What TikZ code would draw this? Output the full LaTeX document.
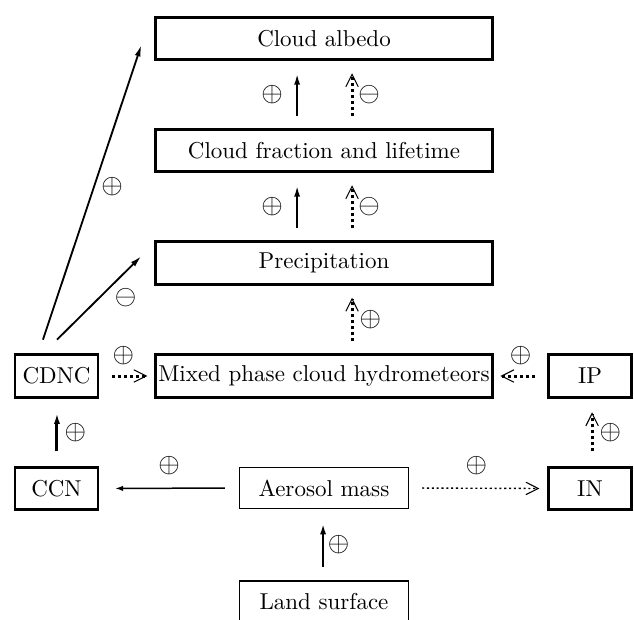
\documentclass[tikz,border=0pt]{standalone}
\usepackage{tikz}
\usetikzlibrary{arrows.meta}

\begin{document}
\begin{tikzpicture}[x=0.435pt, y=-0.435pt]
\tikzstyle{bigbox}=
[
    %Sets thick frames for the cloud quantities
    draw, line width=1.3pt, inner sep=0pt,
    minimum width=146.6pt, minimum height=18.3pt
    ]
\tikzstyle{smallbox}=[bigbox, minimum width=36.1pt]
\tikzstyle{thinbox}=
[
    %Sets thin frames for the surface quantities
    draw, line width=0.6pt, inner sep=0pt,
    minimum width=73.4pt, minimum height=17.7pt
    ]
\tikzstyle{solidarrow}=
[
    %Formats solid links
    line width=0.9pt, -{Latex[length=5pt,width=2.6pt]},
    shorten <=5.3pt, shorten >=5.3pt
    ]
\tikzstyle{dotarrow}=
[
    %Formats dotted links with open heads
    line width=1.3pt, dash pattern=on 1.3pt off 1.3pt,
    -{Straight Barb[length=5.4pt,width=5.4pt,line width=0.45pt]},
    shorten <=5.3pt, shorten >=5.3pt
    ]
\tikzstyle{sign}=[inner sep=0pt, font=\large]

%Fixes the frame of the page
\useasboundingbox (0,0) rectangle (634,619);
\clip (0,0) rectangle (634,619);

%Places the boxes
\node[bigbox] (albedo) at (324,38.5) {Cloud albedo};
\node[bigbox] (frac) at (324,150.5) {Cloud fraction and lifetime};
\node[bigbox] (precip) at (324,263) {Precipitation};
\node[bigbox] (mixed) at (324,376) {Mixed phase cloud hydrometeors};
\node[smallbox] (cdnc) at (56.5,376) {CDNC};
\node[smallbox] (icep) at (590,376) {IP};
\node[smallbox] (ccn) at (56.5,488.5) {CCN};
\node[smallbox] (innuc) at (590,488.5) {IN};
\node[thinbox] (aerosol) at (324,488) {Aerosol mass};
\node[thinbox] (land) at (324,601.5) {Land surface};

%Draws the links between the cloud boxes
\draw[solidarrow] ([xshift=-11.7pt]frac.north) -- node[sign, xshift=-10.9pt]{$\oplus$} ([xshift=-11.7pt]albedo.south);
\draw[dotarrow] ([xshift=12.2pt]frac.north) -- node[sign, xshift=7.4pt]{$\ominus$} ([xshift=12.2pt]albedo.south);
\draw[solidarrow] ([xshift=-11.7pt]precip.north) -- node[sign, xshift=-10.9pt]{$\oplus$} ([xshift=-11.7pt]frac.south);
\draw[dotarrow] ([xshift=12.2pt]precip.north) -- node[sign, xshift=7.4pt]{$\ominus$} ([xshift=12.2pt]frac.south);
\draw[dotarrow] ([xshift=12.2pt]mixed.north) -- node[sign, xshift=8pt]{$\oplus$} ([xshift=12.2pt]precip.south);

%Draws the links from CDNC
\draw[solidarrow, line width=0.8pt, shorten <=0pt, shorten >=0pt] ([xshift=-5.9pt, yshift=6pt]cdnc.north) -- node[sign, pos=0.52, xshift=7.8pt]{$\oplus$} ([xshift=-5.5pt, yshift=-2.8pt]albedo.west);
\draw[solidarrow, line width=0.8pt, shorten <=0pt, shorten >=0pt] ([xshift=0.2pt, yshift=6pt]cdnc.north) -- node[sign, xshift=11.5pt]{$\ominus$} ([xshift=-5.5pt, yshift=3pt]precip.west);
\draw[dotarrow, shorten <=5.5pt, shorten >=2.9pt] (cdnc.east) -- node[sign, xshift=-1.5pt, yshift=8.7pt]{$\oplus$} (mixed.west);
\draw[dotarrow, shorten <=5.1pt, shorten >=2.8pt] (icep.west) -- node[sign, yshift=9pt]{$\oplus$} (mixed.east);

%Draws the links from the aerosols
\draw[solidarrow, line width=1.3pt, shorten <=6.4pt, shorten >=6pt] ([xshift=0.2pt]ccn.north) -- node[sign, xshift=8pt]{$\oplus$} ([xshift=0.2pt]cdnc.south);
\draw[dotarrow, shorten <=6.4pt, shorten >=6pt] ([xshift=0.9pt]innuc.north) -- node[sign, xshift=8pt]{$\oplus$} ([xshift=0.9pt]icep.south);
\draw[solidarrow, line width=0.65pt, -{Latex[length=3.5pt,width=2.4pt]}, shorten <=6.1pt, shorten >=6.8pt] (aerosol.west) -- node[sign, yshift=10pt]{$\oplus$} (ccn.east);
\draw[dotarrow, line width=0.6pt, dash pattern=on 0.9pt off 1.2pt, shorten <=5.7pt, shorten >=3.3pt] (aerosol.east) -- node[sign, xshift=-0.7pt, yshift=10pt]{$\oplus$} (innuc.west);
\draw[solidarrow, line width=1.2pt, shorten <=6pt, shorten >=6pt] ([xshift=-0.4pt]land.north) -- node[sign, xshift=6.8pt]{$\oplus$} ([xshift=-0.4pt]aerosol.south);
\end{tikzpicture}
\end{document}
